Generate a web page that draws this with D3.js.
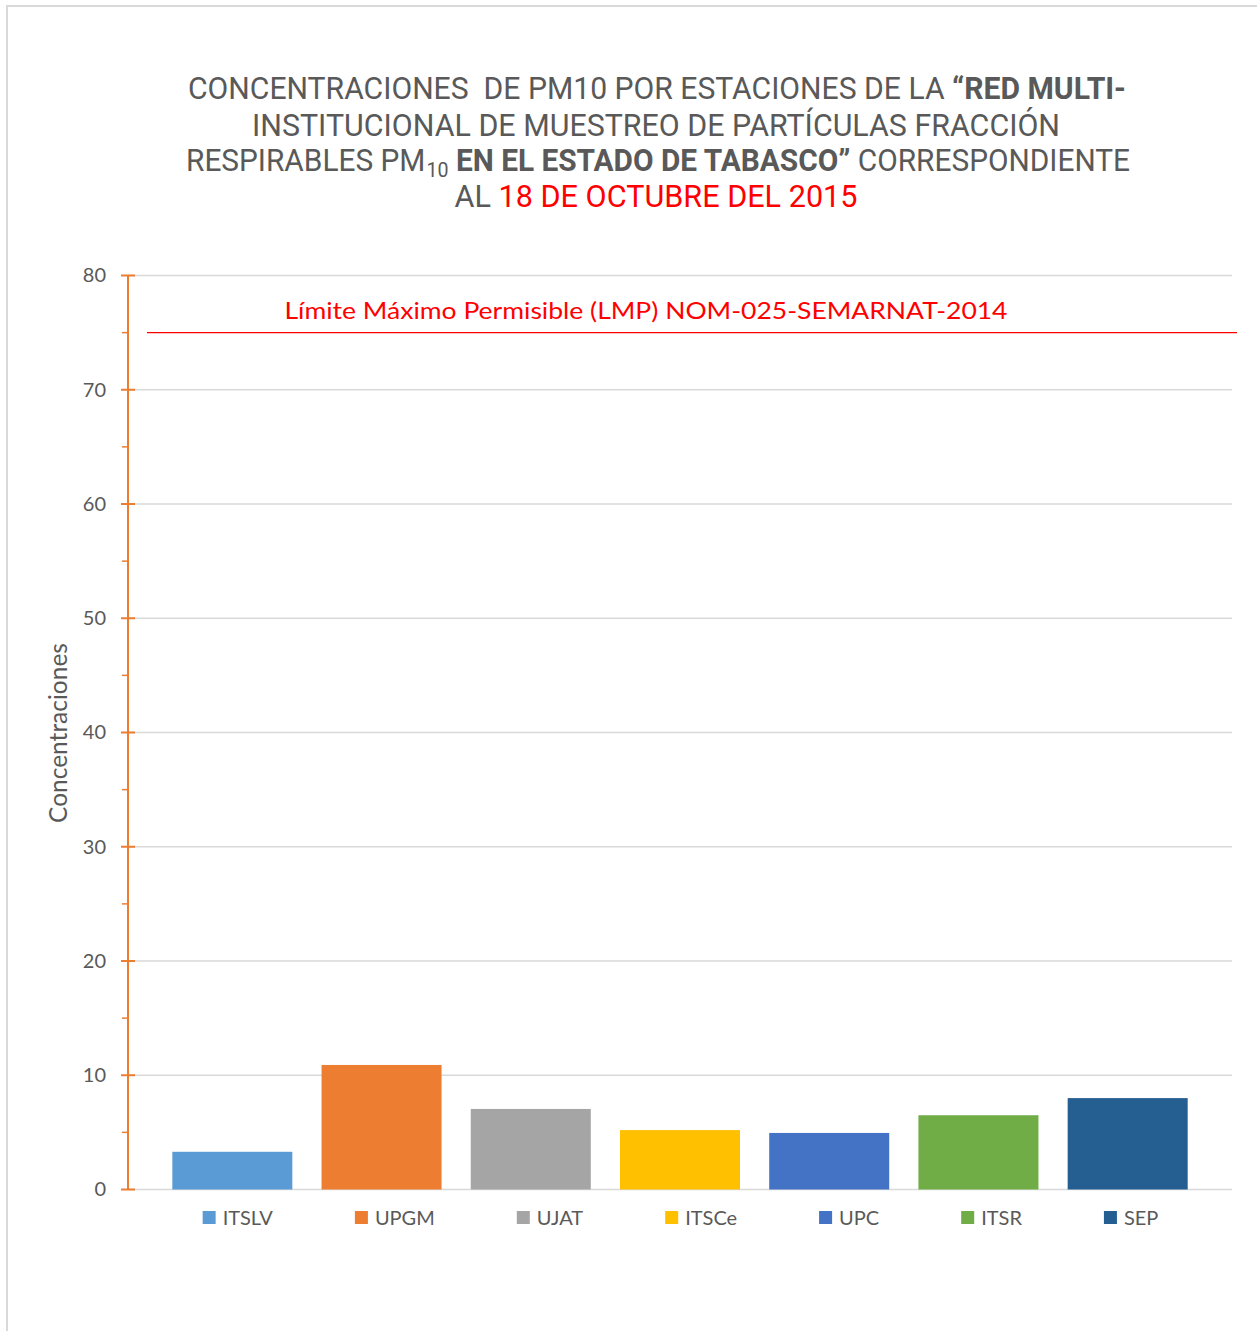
<!DOCTYPE html>
<html><head><meta charset="utf-8">
<script src="https://cdn.jsdelivr.net/npm/d3@7"></script>
<style>html,body{margin:0;padding:0;background:#fff;}</style>
</head><body>
<svg id="chart" width="1257" height="1331"></svg>
<script>
const series = ["ITSLV","UPGM","UJAT","ITSCe","UPC","ITSR","SEP"];
const values = [3.3, 10.9, 7.05, 5.2, 4.95, 6.5, 8.0];
const colors = ["#5B9BD5","#ED7D31","#A5A5A5","#FFC000","#4472C4","#70AD47","#255E91"];
const yTicks = [0,10,20,30,40,50,60,70,80];
const limitValue = 75;
const limitLabel = "Límite Máximo Permisible (LMP) NOM-025-SEMARNAT-2014";
const yTitle = "Concentraciones";

(function(){
const svg = d3.select("#chart");
svg.append("rect").attr("x",7).attr("y",6).attr("width",1270).attr("height",1350)
  .attr("fill","#fff").attr("stroke","#D9D9D9").attr("stroke-width",2);

// Title: each styled run is its own text element (no edge spaces), gaps added explicitly
const tFont = "'Liberation Sans Narrow','Roboto','Liberation Sans',sans-serif";
const grey = "#595959";
const title = svg.append("g").attr("font-family",tFont).attr("fill",grey).attr("text-anchor","start");
function line(yy, cxx, target, parts){
  const probe = title.append("text").attr("font-size",32).text("A A");
  const probe2 = title.append("text").attr("font-size",32).text("AA");
  const sp = probe.node().getComputedTextLength() - probe2.node().getComputedTextLength();
  probe.remove(); probe2.remove();
  const nodes = parts.map(p=>{
    const t = title.append("text").attr("y", yy + (p.sub ? 6 : 0))
      .attr("font-size", p.sub ? 21 : 32).text(p.t);
    if(p.b) t.attr("font-weight","bold");
    if(p.c) t.attr("fill",p.c);
    return t;
  });
  const widths = nodes.map(n=>n.node().getComputedTextLength());
  const gaps = parts.map(p=> (p.gap||0)*sp);
  const total = d3.sum(widths) + d3.sum(gaps);
  const k = target/total;
  let xx = cxx - target/2;
  nodes.forEach((n,i)=>{
    xx += gaps[i]*k;
    const w = widths[i]*k;
    n.attr("x",xx).attr("textLength",w).attr("lengthAdjust","spacingAndGlyphs");
    xx += w;
  });
}
line(99, 657, 938, [{t:"CONCENTRACIONES"},{t:"DE PM10 POR ESTACIONES DE LA",gap:2},{t:"“RED MULTI-",b:1,gap:1}]);
line(136, 656, 808, [{t:"INSTITUCIONAL DE MUESTREO DE PARTÍCULAS FRACCIÓN"}]);
line(171, 658, 944, [{t:"RESPIRABLES PM"},{t:"10",sub:1,gap:0.15},{t:"EN EL ESTADO DE TABASCO”",b:1,gap:1},{t:"CORRESPONDIENTE",gap:1}]);
line(207, 656, 403, [{t:"AL"},{t:"18 DE OCTUBRE DEL 2015",c:"#FF0000",gap:1}]);

// Plot
const pLeft = 128, pRight = 1232, pTop = 275.5, pBottom = 1189.5;
const y = d3.scaleLinear().domain([0,80]).range([pBottom, pTop]);
const x = d3.scaleBand().domain(series).range([pLeft,pRight]).paddingInner(0.1957).paddingOuter(0.297);
const font = "'Lato','Open Sans',sans-serif";

svg.append("g").selectAll("line").data(yTicks).join("line")
  .attr("x1",pLeft).attr("x2",pRight).attr("y1",d=>y(d)).attr("y2",d=>y(d))
  .attr("stroke","#D9D9D9").attr("stroke-width",1.5);

svg.append("g").selectAll("rect").data(series).join("rect")
  .attr("x",d=>x(d)).attr("width",x.bandwidth())
  .attr("y",(d,i)=>y(values[i])).attr("height",(d,i)=>pBottom - y(values[i]))
  .attr("fill",(d,i)=>colors[i]);

const axis = d3.axisLeft(y).tickValues(yTicks).tickSize(0).tickPadding(22);
const ag = svg.append("g").attr("transform",`translate(${pLeft},0)`).call(axis);
ag.select(".domain").remove();
ag.selectAll("text").attr("font-family",font).attr("font-size",20).attr("fill",grey);
ag.append("line").attr("x1",0).attr("x2",0).attr("y1",pTop).attr("y2",pBottom).attr("stroke","#ED7D31").attr("stroke-width",2);
ag.selectAll(".maj").data(yTicks).join("line").attr("class","maj")
  .attr("x1",-7).attr("x2",7).attr("y1",d=>y(d)).attr("y2",d=>y(d)).attr("stroke","#ED7D31").attr("stroke-width",2);
ag.selectAll(".min").data(d3.range(5,80,10)).join("line").attr("class","min")
  .attr("x1",-6).attr("x2",0).attr("y1",d=>y(d)).attr("y2",d=>y(d)).attr("stroke","#ED7D31").attr("stroke-width",1.5);

svg.append("text").attr("transform",`translate(67,733) rotate(-90)`)
  .attr("text-anchor","middle").attr("font-family",font).attr("font-size",24.5).attr("fill",grey).text(yTitle);

svg.append("line").attr("x1",147).attr("x2",1237).attr("y1",y(limitValue)).attr("y2",y(limitValue))
  .attr("stroke","#FF0000").attr("stroke-width",1.2);
svg.append("text").attr("x",646).attr("y",319).attr("text-anchor","middle")
  .attr("font-family",font).attr("font-size",23).attr("fill","#FF0000")
  .attr("textLength",723).attr("lengthAdjust","spacingAndGlyphs").text(limitLabel);

const lg = svg.append("g").attr("font-family",font).attr("font-size",20).attr("fill",grey);
let cx = 0;
series.forEach((s,i)=>{
  const g = lg.append("g").attr("transform",`translate(${cx},0)`);
  g.append("rect").attr("x",0).attr("y",-6.5).attr("width",13).attr("height",13).attr("fill",colors[i]);
  const t = g.append("text").attr("x",20).attr("y",7).text(s);
  const w = 20 + t.node().getComputedTextLength();
  cx += w + (i < series.length-1 ? 82 : 0);
});
lg.attr("transform",`translate(${680.5 - cx/2},1217.5)`);
})();
</script>
</body></html>
